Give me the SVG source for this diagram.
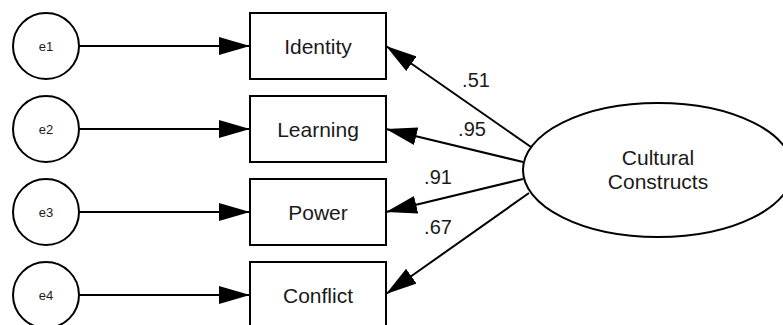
<svg xmlns="http://www.w3.org/2000/svg" width="783" height="325" viewBox="0 0 783 325">
<defs>
<marker id="ah" markerUnits="userSpaceOnUse" markerWidth="32" markerHeight="18" viewBox="0 0 32 18" refX="31" refY="9" orient="auto">
<path d="M0,0 L31,9 L0,18 Z" fill="#000"/>
</marker>
<style>
.n{fill:#fff;stroke:#000;stroke-width:2}
.t{font-family:"Liberation Sans",Arial,sans-serif;font-size:21px;fill:#1a1a1a;text-anchor:middle}
.l{font-family:"Liberation Sans",Arial,sans-serif;font-size:20px;fill:#1a1a1a;text-anchor:middle}
.e{font-family:"Liberation Sans",Arial,sans-serif;font-size:13px;fill:#1a1a1a;text-anchor:middle}
.c{stroke:#000;stroke-width:2;fill:none;marker-end:url(#ah)}
</style>
</defs>
<rect width="783" height="325" fill="#fff"/>
<g id="connectors">
<line class="c" x1="79" y1="46" x2="250" y2="46"/>
<line class="c" x1="79" y1="129" x2="250" y2="129"/>
<line class="c" x1="79" y1="212" x2="250" y2="212"/>
<line class="c" x1="79" y1="295" x2="250" y2="295"/>
<line class="c" x1="531" y1="147" x2="386" y2="46"/>
<line class="c" x1="523" y1="162" x2="386" y2="129"/>
<line class="c" x1="523" y1="179" x2="386" y2="212"/>
<line class="c" x1="529" y1="193" x2="386" y2="294"/>
</g>
<g id="e1"><circle class="n" cx="46" cy="46" r="33"/><text class="e" x="46" y="51">e1</text></g>
<g id="e2"><circle class="n" cx="46" cy="129" r="33"/><text class="e" x="46" y="134">e2</text></g>
<g id="e3"><circle class="n" cx="46" cy="212" r="33"/><text class="e" x="46" y="217">e3</text></g>
<g id="e4"><circle class="n" cx="46" cy="295" r="33"/><text class="e" x="46" y="300">e4</text></g>
<g id="identity"><rect class="n" x="250" y="13" width="136" height="66"/><text class="t" x="318" y="54">Identity</text></g>
<g id="learning"><rect class="n" x="250" y="96" width="136" height="66"/><text class="t" x="318" y="137">Learning</text></g>
<g id="power"><rect class="n" x="250" y="179" width="136" height="66"/><text class="t" x="318" y="220">Power</text></g>
<g id="conflict"><rect class="n" x="250" y="262" width="136" height="66"/><text class="t" x="318" y="303">Conflict</text></g>
<g id="cultural"><ellipse class="n" cx="658" cy="170" rx="135" ry="67"/><text class="t" x="658" y="165">Cultural</text><text class="t" x="658" y="189">Constructs</text></g>
<g id="labels">
<text class="l" x="476" y="87">.51</text>
<text class="l" x="472" y="136">.95</text>
<text class="l" x="438" y="184">.91</text>
<text class="l" x="438" y="234">.67</text>
</g>
</svg>
